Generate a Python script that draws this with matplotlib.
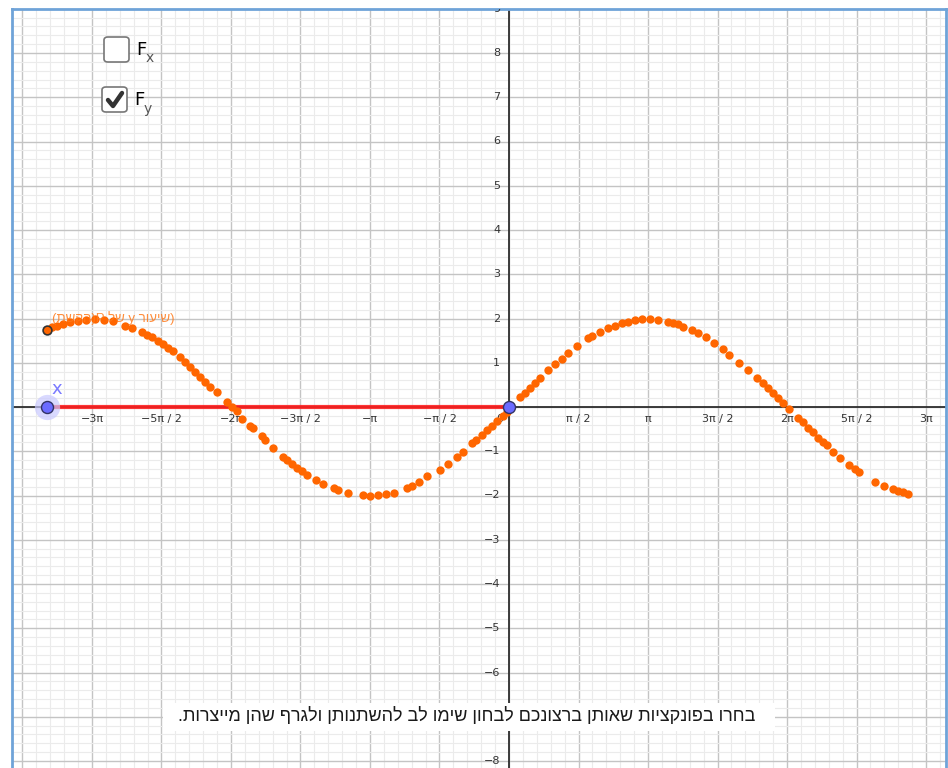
import numpy as np
import matplotlib
matplotlib.use("Agg")
import matplotlib.pyplot as plt
from matplotlib.patches import FancyBboxPatch, Rectangle

# traced points of P (x, y) in axis units
trace_x = [-10.43, -10.33, -10.21, -10.08, -9.92, -9.74, -9.56, -9.36, -9.15, -8.95,
           -8.68, -8.53, -8.30, -8.19, -8.07, -7.93, -7.81, -7.70, -7.59, -7.44,
           -7.32, -7.21, -7.10, -6.98, -6.87, -6.76, -6.61, -6.38, -6.27, -6.15,
           -6.04, -5.85, -5.79, -5.59, -5.51, -5.33, -5.11, -5.02, -4.91, -4.80,
           -4.68, -4.56, -4.36, -4.20, -3.95, -3.86, -3.63, -3.31, -3.14, -2.95,
           -2.78, -2.60, -2.31, -2.20, -2.03, -1.86, -1.56, -1.37, -1.18, -1.03,
           -0.84, -0.75, -0.62, -0.50, -0.39, -0.26, -0.14, -0.04, 0.25, 0.36,
           0.47, 0.59, 0.69, 0.89, 1.04, 1.19, 1.34, 1.53, 1.79, 1.87,
           2.06, 2.24, 2.40, 2.55, 2.70, 2.85, 3.00, 3.19, 3.37, 3.60,
           3.71, 3.83, 3.94, 4.13, 4.26, 4.45, 4.63, 4.83, 4.98, 5.20,
           5.39, 5.60, 5.73, 5.86, 5.96, 6.09, 6.20, 6.33, 6.54, 6.64,
           6.76, 6.88, 6.99, 7.10, 7.18, 7.32, 7.48, 7.69, 7.82, 7.92,
           8.27, 8.48, 8.67, 8.80, 8.91, 9.02]
trace_y = [1.74, 1.80, 1.84, 1.88, 1.91, 1.94, 1.97, 1.98, 1.97, 1.94,
           1.84, 1.78, 1.69, 1.63, 1.58, 1.49, 1.42, 1.34, 1.27, 1.14,
           1.02, 0.91, 0.80, 0.68, 0.57, 0.46, 0.33, 0.12, 0.01, -0.09,
           -0.26, -0.44, -0.48, -0.65, -0.75, -0.92, -1.12, -1.20, -1.29, -1.37,
           -1.45, -1.54, -1.65, -1.75, -1.84, -1.88, -1.95, -1.99, -2.00, -1.99,
           -1.97, -1.94, -1.84, -1.79, -1.70, -1.57, -1.42, -1.29, -1.12, -1.01,
           -0.82, -0.75, -0.63, -0.52, -0.42, -0.31, -0.20, -0.11, 0.22, 0.32,
           0.42, 0.54, 0.65, 0.84, 0.97, 1.08, 1.21, 1.38, 1.55, 1.60,
           1.70, 1.78, 1.84, 1.89, 1.93, 1.97, 1.99, 2.00, 1.97, 1.93,
           1.89, 1.87, 1.81, 1.74, 1.68, 1.58, 1.45, 1.30, 1.18, 1.00,
           0.84, 0.66, 0.54, 0.42, 0.32, 0.21, 0.08, -0.05, -0.24, -0.35,
           -0.47, -0.57, -0.69, -0.80, -0.87, -1.01, -1.15, -1.31, -1.40, -1.47,
           -1.69, -1.79, -1.86, -1.90, -1.93, -1.97]

x_start = -10.43       # slider point x on the axis
p_start_y = 1.74       # first traced point

x_tick_mult = [-6, -5, -4, -3, -2, -1, 1, 2, 3, 4, 5, 6]   # multiples of pi/2
x_tick_labels = ["−3π", "−5π / 2", "−2π", "−3π / 2", "−π", "−π / 2",
                 "π / 2", "π", "3π / 2", "2π", "5π / 2", "3π"]
# -7 sits under the instruction box
y_tick_vals = [-8, -6, -5, -4, -3, -2, -1, 1, 2, 3, 4, 5, 6, 7, 8, 9]

instructions = "בחרו בפונקציות שאותן ברצונכם לבחון שימו לב להשתנותן ולגרף שהן מייצרות."


def rtl(s):
    # matplotlib lays glyphs out left to right, so feed Hebrew in visual order
    return s[::-1]


label_p = "(" + rtl("הקשת") + ")P " + rtl("של") + " y " + rtl("שיעור") + ")"

W, H = 948, 768
fig = plt.figure(figsize=(W / 100, H / 100), dpi=100)
fig.patch.set_facecolor("white")

# px helpers (origin top-left)
def fx(px):
    return px / W

def fy(py):
    return 1 - py / H

left_px, right_px, top_px = 12, 946, 9
ax = fig.add_axes([fx(left_px), 0, fx(right_px) - fx(left_px), fy(top_px)])

ox, oy, unit = 509, 407, 44.25

# grid: pi/2 major columns, unit rows
ax.set_xticks(np.arange(-8, 8) * np.pi / 2)
ax.set_xticks(np.arange(-40, 40) * np.pi / 10, minor=True)
ax.set_yticks(np.arange(-9, 10))
ax.set_yticks(np.arange(-45, 50) * 0.2, minor=True)
ax.set_xlim((left_px - ox) / unit, (right_px - ox) / unit)
ax.set_ylim((oy - H) / unit, (oy - top_px) / unit)
ax.grid(which="major", color="#c4c4c4", lw=1.0, zorder=0)
ax.grid(which="minor", color="#ebebeb", lw=0.8, zorder=0)
ax.set_axisbelow(True)
ax.tick_params(which="both", length=0, labelbottom=False, labelleft=False)

for side in ["left", "top", "right"]:
    ax.spines[side].set_color("#6fa3d8")
    ax.spines[side].set_linewidth(2)
ax.spines["bottom"].set_visible(False)

ax.axhline(0, color="#2e2e2e", lw=1.3, zorder=2)
ax.axvline(0, color="#2e2e2e", lw=1.3, zorder=2)

tick_font = dict(fontsize=8, color="#333333", family="DejaVu Sans")
for m, lab in zip(x_tick_mult, x_tick_labels):
    ax.text(m * np.pi / 2, -0.15, lab, ha="center", va="top", **tick_font)
ax.text(-0.12, -0.15, "0", ha="right", va="top", **tick_font)
for v in y_tick_vals:
    ax.text(-0.2, v, "−%d" % -v if v < 0 else "%d" % v, ha="right",
            va="center", clip_on=True, **tick_font)

# red segment along the axis
ax.plot([x_start, 0], [0, 0], color="#ff2020", lw=3, alpha=0.9,
        solid_capstyle="butt", zorder=3)

# trace of P
ax.scatter(trace_x, trace_y, s=36, color="#ff6600", lw=0, zorder=4)
ax.scatter([x_start], [p_start_y], s=40, color="#ff6600",
           edgecolors="#333333", lw=1.2, zorder=5)
ax.text(x_start + 0.1, p_start_y + 0.12, label_p,
        fontsize=9.5, color="#ff7a1a", alpha=0.85, ha="left", va="bottom",
        family=["Liberation Sans", "DejaVu Sans"], zorder=6)

# points on the x axis
ax.scatter([x_start], [0], s=330, color="#c9c9ff", alpha=0.7, lw=0, zorder=5)
ax.scatter([x_start, 0], [0, 0], s=75, color="#6b6bff",
           edgecolors="#333366", lw=1.0, zorder=6)
ax.text(x_start + 0.1, 0.2, "x", fontsize=13, color="#7a7aff",
        ha="left", va="bottom", zorder=6)

# check boxes
def checkbox(px, py, checked):
    box = FancyBboxPatch((fx(px), fy(py + 25)), fx(25), 25 / H,
                         boxstyle="round,pad=0,rounding_size=0.004",
                         transform=fig.transFigure, facecolor="white",
                         edgecolor="#777777", lw=1.2, zorder=10)
    fig.patches.append(box)
    if checked:
        xs = [px + 6, px + 11, px + 20]
        ys = [py + 13, py + 19, py + 6]
        fig.lines.append(plt.Line2D([fx(v) for v in xs], [fy(v) for v in ys],
                                    transform=fig.transFigure,
                                    color="#333333", lw=3.2,
                                    solid_capstyle="round", zorder=11))

checkbox(104, 37, False)
checkbox(102, 87, True)
fig.text(fx(136), fy(50), "F", fontsize=13, color="black", ha="left",
         va="center", family="DejaVu Sans")
fig.text(fx(146), fy(58), "x", fontsize=10, color="#555555", ha="left",
         va="center", family="DejaVu Sans")
fig.text(fx(134), fy(100), "F", fontsize=13, color="black", ha="left",
         va="center", family="DejaVu Sans")
fig.text(fx(144), fy(109), "y", fontsize=10, color="#555555", ha="left",
         va="center", family="DejaVu Sans")

# instruction box
fig.patches.append(Rectangle((fx(163), fy(731)), fx(775) - fx(163), 28 / H,
                             transform=fig.transFigure, facecolor="white",
                             edgecolor="none", zorder=10))
fig.text(fx(467), fy(716), rtl(instructions), fontsize=13, color="#1a1a1a",
         ha="center", va="center", family=["Liberation Sans", "DejaVu Sans"],
         zorder=11)

fig.savefig("out.png", dpi=100)
